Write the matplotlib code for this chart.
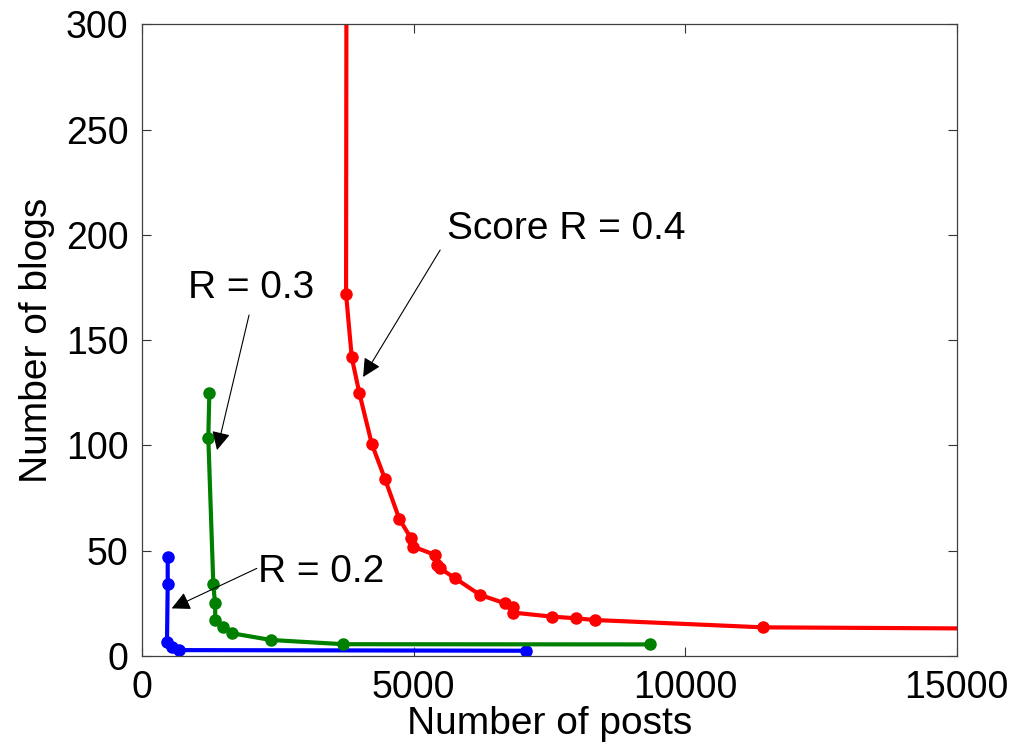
import matplotlib
matplotlib.use("Agg")
import matplotlib.pyplot as plt

plt.rcParams['font.family'] = ['Liberation Sans', 'DejaVu Sans']

# R = 0.4 (red)
red_posts = [3765, 3753, 3858, 3999, 4227, 4472, 4736, 4951, 4994, 5393, 5425, 5486,
             5762, 6222, 6683, 6836, 6836, 7544, 7991, 8329, 11432, 16500]
red_blogs = [420, 171.9, 141.8, 124.7, 100.7, 83.9, 64.9, 55.9, 51.9, 48.0, 43.2, 41.6,
             36.9, 29.0, 25.0, 23.4, 20.6, 18.7, 17.9, 17.1, 13.6, 12.9]
# R = 0.3 (green)
green_posts = [1235, 1216, 1308, 1340, 1345, 1493, 1647, 2371, 3704, 9354]
green_blogs = [125, 103.7, 34.2, 25.0, 17.1, 14.0, 10.8, 7.6, 5.6, 5.5]
# R = 0.2 (blue)
blue_posts = [468, 468, 455, 540, 669, 7075]
blue_blogs = [46.9, 34.1, 6.8, 4.5, 2.8, 2.5]

x_ticks = [0, 5000, 10000, 15000]
y_ticks = [0, 50, 100, 150, 200, 250, 300]

fig = plt.figure(figsize=(10.12, 7.48), dpi=100)
ax = fig.add_axes([0.1406, 0.123, 0.8048, 0.8445])

kw = dict(lw=3.0, marker='o', markersize=8, solid_capstyle='round', solid_joinstyle='round')
ax.plot(blue_posts, blue_blogs, color=(0, 0, 1), **kw)
ax.plot(green_posts, green_blogs, color=(0, 0.5, 0), **kw)
ax.plot(red_posts, red_blogs, color=(1, 0, 0), **kw)

ax.set_xlim(0, 15000)
ax.set_ylim(0, 300)
ax.set_xticks(x_ticks)
ax.set_yticks(y_ticks)
ax.set_xticklabels([str(v) for v in x_ticks])
ax.set_yticklabels([str(v) for v in y_ticks])
ax.tick_params(direction='in', length=6.5, width=0.8, top=True, right=True,
               labelsize=27, colors='#333333', labelcolor='black', pad=10)
for s in ax.spines.values():
    s.set_color('#404040')
    s.set_linewidth(0.9)

ax.set_xlabel('Number of posts', fontsize=28, labelpad=0)
ax.set_ylabel('Number of blogs', fontsize=28, labelpad=8)

arrow = dict(arrowstyle='-|>', color='black', lw=0.8, mutation_scale=28,
             shrinkA=0, shrinkB=0)
ax.annotate('', xy=(4067, 132.5), xytext=(5486, 192.8), arrowprops=arrow)
ax.annotate('', xy=(1376, 97.8), xytext=(1966, 161.9), arrowprops=arrow)
ax.annotate('', xy=(541, 22.6), xytext=(2108, 41.6), arrowprops=arrow)

ax.text(7800, 203, 'Score R = 0.4', fontsize=28, ha='center', va='center')
ax.text(2000, 175, 'R = 0.3', fontsize=28, ha='center', va='center')
ax.text(3300, 40, 'R = 0.2', fontsize=28, ha='center', va='center')

fig.savefig('out.png', dpi=100)
